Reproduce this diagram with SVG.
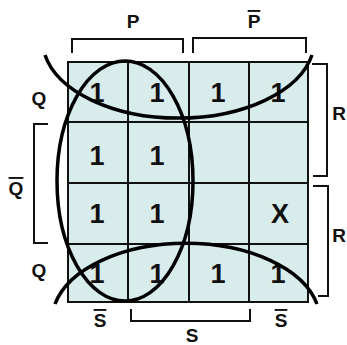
<svg xmlns="http://www.w3.org/2000/svg" width="347" height="345" viewBox="0 0 347 345">
<style>
.cell{fill:#d9ecec;stroke:none}
.grid{stroke:#111;stroke-width:2;fill:none}
.br{stroke:#111;stroke-width:2;fill:none}
.loop{stroke:#000;stroke-width:3.5;fill:none}
.v{font-family:"Liberation Sans",Arial,sans-serif;font-weight:bold;font-size:27px;fill:#111;text-anchor:middle}
.lab{font-family:"Liberation Sans",Arial,sans-serif;font-weight:bold;font-size:19px;fill:#111;text-anchor:middle}
.bar{text-decoration:overline}
</style>
<rect width="347" height="345" fill="#fff"/>
<g id="map">
<rect class="cell" x="68" y="62" width="240" height="240"/>
<path class="grid" d="M68,62H308V302H68Z M128,62V302 M189,62V302 M249,62V302 M68,122H308 M68,183H308 M68,244H308"/>
</g>
<g id="cells">
<text class="v" x="97" y="102">1</text>
<text class="v" x="157" y="102">1</text>
<text class="v" x="218" y="102">1</text>
<text class="v" x="278" y="102">1</text>
<text class="v" x="97" y="165">1</text>
<text class="v" x="157" y="165">1</text>
<text class="v" x="97" y="223">1</text>
<text class="v" x="157" y="223">1</text>
<text class="v" x="280" y="223">X</text>
<text class="v" x="97" y="283">1</text>
<text class="v" x="157" y="283">1</text>
<text class="v" x="218" y="283">1</text>
<text class="v" x="278" y="283">1</text>
</g>
<g id="labels">
<text class="lab" x="133" y="28">P</text>
<text class="lab bar" x="254" y="28">P</text>
<text class="lab" x="39" y="105">Q</text>
<text class="lab bar" x="16" y="195">Q</text>
<text class="lab" x="39" y="277">Q</text>
<text class="lab bar" x="100" y="327">S</text>
<text class="lab" x="192" y="342">S</text>
<text class="lab" x="346" y="120" style="text-anchor:end">R</text>
<text class="lab" x="346" y="242" style="text-anchor:end">R</text>
<text class="lab bar" x="281" y="327">S</text>
</g>
<g id="brackets">
<path class="br" d="M72,53V39H183V53"/>
<path class="br" d="M193,53V38H306V53"/>
<path class="br" d="M48,124H34V243H48"/>
<path class="br" d="M312,64H327V176H313"/>
<path class="br" d="M313,186H328V296H318"/>
<path class="br" d="M131,309V321H250V309"/>
</g>
<g id="loops">
<ellipse class="loop" cx="125" cy="181" rx="68" ry="120"/>
<path class="loop" d="M45,55 A136,78 0 0 0 312,55"/>
<path class="loop" d="M55,304 A134,77 0 0 1 317,304"/>
</g>
</svg>
